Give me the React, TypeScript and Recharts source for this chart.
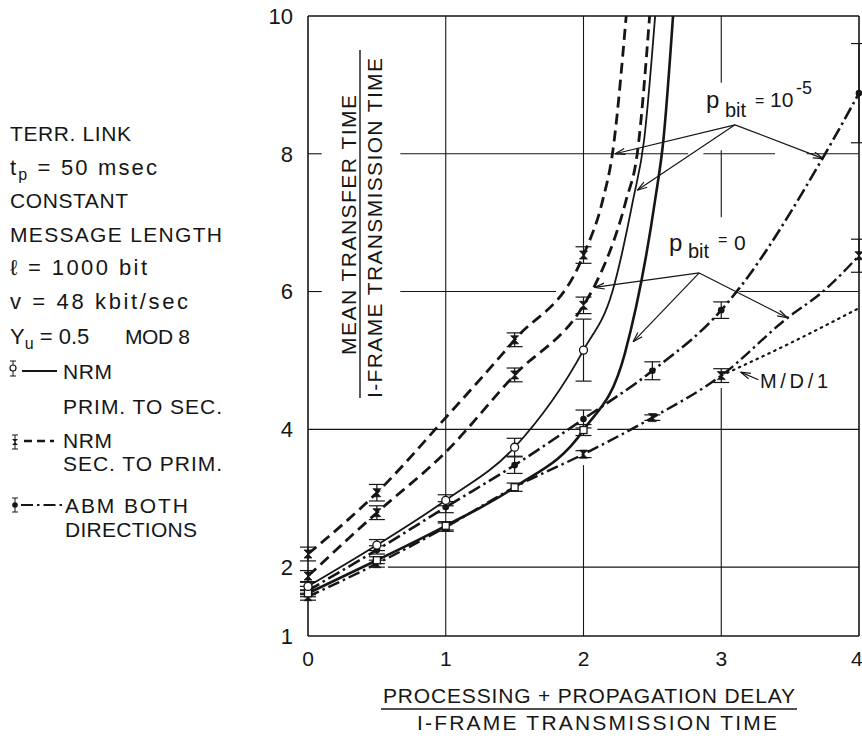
import React from 'react'
import {
  ComposedChart,
  Line,
  Scatter,
  XAxis,
  YAxis,
  ReferenceLine,
  ErrorBar,
} from 'recharts'

// ---------------------------------------------------------------------------
// Values (x = delay / I-frame time, y = transfer / I-frame time)
// ---------------------------------------------------------------------------

const xTicks = [0, 1, 2, 3, 4]
const yTicks = [1, 2, 4, 6, 8, 10]

// NRM primary -> secondary, p_bit = 1e-5 (thin solid, open circles)
const nrmPsErrCurve = [
  { x: 0, y: 1.72 }, { x: 0.5, y: 2.32 }, { x: 1, y: 2.97 }, { x: 1.5, y: 3.74 },
  { x: 2, y: 5.15 }, { x: 2.21, y: 6.0 }, { x: 2.36, y: 7.33 }, { x: 2.44, y: 8.2 },
  { x: 2.52, y: 10 },
]
const nrmPsErrPts = [
  { x: 0, y: 1.72, err: 0.06 }, { x: 0.5, y: 2.32, err: 0.08 }, { x: 1, y: 2.97, err: 0.08 },
  { x: 1.5, y: 3.74, err: 0.13 }, { x: 2, y: 5.15, err: 0.45 },
]

// NRM primary -> secondary, p_bit = 0 (thick solid, open squares)
const nrmPsCurve = [
  { x: 0, y: 1.62 }, { x: 0.5, y: 2.1 }, { x: 1, y: 2.6 }, { x: 1.5, y: 3.16 },
  { x: 2, y: 3.99 }, { x: 2.3, y: 5.1 }, { x: 2.52, y: 7.33 }, { x: 2.58, y: 8.2 },
  { x: 2.65, y: 10 },
]
const nrmPsPts = [
  { x: 0, y: 1.62, err: 0.05 }, { x: 0.5, y: 2.1, err: 0.05 }, { x: 1, y: 2.6, err: 0.06 },
  { x: 1.5, y: 3.16, err: 0.06 }, { x: 2, y: 3.99, err: 0.08 },
]

// NRM secondary -> primary, p_bit = 1e-5 (dashed, upper)
const nrmSpErrCurve = [
  { x: 0, y: 2.19 }, { x: 0.5, y: 3.08 }, { x: 1, y: 4.17 }, { x: 1.5, y: 5.3 },
  { x: 2, y: 6.53 }, { x: 2.14, y: 7.33 }, { x: 2.21, y: 8.0 }, { x: 2.31, y: 10 },
]
const nrmSpErrPts = [
  { x: 0, y: 2.19, err: 0.1 }, { x: 0.5, y: 3.08, err: 0.12 },
  { x: 1.5, y: 5.3, err: 0.1 }, { x: 2, y: 6.53, err: 0.12 },
]

// NRM secondary -> primary, p_bit = 0 (dashed, lower)
const nrmSpCurve = [
  { x: 0, y: 1.87 }, { x: 0.5, y: 2.79 }, { x: 1, y: 3.67 }, { x: 1.5, y: 4.79 },
  { x: 2, y: 5.8 }, { x: 2.08, y: 6.08 }, { x: 2.31, y: 7.33 }, { x: 2.39, y: 8.0 },
  { x: 2.48, y: 10 },
]
const nrmSpPts = [
  { x: 0, y: 1.87, err: 0.08 }, { x: 0.5, y: 2.79, err: 0.1 },
  { x: 1.5, y: 4.79, err: 0.1 }, { x: 2, y: 5.8, err: 0.12 },
]

// ABM both directions, p_bit = 1e-5 (dash-dot, upper)
const abmErrCurve = [
  { x: 0, y: 1.66 }, { x: 0.5, y: 2.25 }, { x: 1, y: 2.87 }, { x: 1.5, y: 3.48 },
  { x: 2, y: 4.15 }, { x: 2.5, y: 4.85 }, { x: 3, y: 5.73 }, { x: 3.12, y: 6.02 },
  { x: 3.74, y: 7.95 }, { x: 4, y: 8.88 },
]
const abmErrPts = [
  { x: 0, y: 1.66, err: 0.06 }, { x: 0.5, y: 2.25, err: 0.06 }, { x: 1, y: 2.87, err: 0.08 },
  { x: 1.5, y: 3.48, err: 0.12 }, { x: 2, y: 4.15, err: 0.13 }, { x: 2.5, y: 4.85, err: 0.13 },
  { x: 3, y: 5.73, err: 0.12 }, { x: 4, y: 8.88, err: 0.72 },
]

// ABM both directions, p_bit = 0 (dash-dot, lower)
const abmCurve = [
  { x: 0, y: 1.57 }, { x: 0.5, y: 2.05 }, { x: 1, y: 2.58 }, { x: 1.5, y: 3.16 },
  { x: 2, y: 3.64 }, { x: 2.5, y: 4.17 }, { x: 3, y: 4.78 }, { x: 3.47, y: 5.6 },
  { x: 3.75, y: 6.02 }, { x: 4, y: 6.52 },
]
const abmPts = [
  { x: 0, y: 1.57, err: 0.05 }, { x: 0.5, y: 2.05, err: 0.05 }, { x: 1, y: 2.58, err: 0.06 },
  { x: 2, y: 3.64, err: 0.05 }, { x: 2.5, y: 4.17, err: 0.04 }, { x: 3, y: 4.78, err: 0.1 },
  { x: 4, y: 6.52, err: 0.24 },
]

// M/D/1 theory (dotted)
const mdOneCurve = [{ x: 3, y: 4.78 }, { x: 3.52, y: 5.27 }, { x: 4, y: 5.76 }]

// ---------------------------------------------------------------------------
// Grid with the gaps the draftsman left around labels and curves
// ---------------------------------------------------------------------------

const hGrid = [
  { y: 8, spans: [[0, 0.1], [0.67, 2.76], [2.87, 3.39], [3.62, 4]] },
  { y: 6, spans: [[0, 0.1], [0.67, 1.8], [3.13, 4]] },
  { y: 4, spans: [[0, 1.99], [2.1, 4]] },
  { y: 2, spans: [[0.58, 4]] },
]
const vGrid = [
  { x: 1, spans: [[1, 10]] },
  { x: 2, spans: [[1, 3.48], [6.65, 10]] },
  { x: 3, spans: [[1, 4.6], [7.08, 8.05], [9.03, 10]] },
]

// label leaders: [from, to], arrowhead at "to"
const leaders = [
  [{ x: 3.1, y: 8.42 }, { x: 2.23, y: 8.0 }],
  [{ x: 3.1, y: 8.42 }, { x: 2.39, y: 7.47 }],
  [{ x: 3.1, y: 8.42 }, { x: 3.74, y: 7.93 }],
  [{ x: 2.84, y: 6.27 }, { x: 2.08, y: 6.06 }],
  [{ x: 2.84, y: 6.27 }, { x: 2.36, y: 5.27 }],
  [{ x: 2.84, y: 6.27 }, { x: 3.48, y: 5.62 }],
  [{ x: 3.27, y: 4.72 }, { x: 3.14, y: 4.83 }],
]

const INK = '#161616'
const FONT = '"Liberation Sans", Arial, Helvetica, sans-serif'

// ---------------------------------------------------------------------------
// Marker shapes
// ---------------------------------------------------------------------------

function OpenCircle(props: any) {
  const { cx, cy } = props
  return <circle cx={cx} cy={cy} r={4} fill="#fff" stroke={INK} strokeWidth={1.3} />
}

function OpenSquare(props: any) {
  const { cx, cy } = props
  return <rect x={cx - 3.5} y={cy - 3.5} width={7} height={7} fill="#fff" stroke={INK} strokeWidth={1.3} />
}

function Bowtie(props: any) {
  const { cx, cy } = props
  return (
    <path
      d={`M${cx - 4},${cy - 4} L${cx + 4},${cy - 4} L${cx - 4},${cy + 4} L${cx + 4},${cy + 4} Z`}
      fill={INK}
      stroke={INK}
      strokeWidth={0.8}
    />
  )
}

function Dot(props: any) {
  const { cx, cy } = props
  return <circle cx={cx} cy={cy} r={3.3} fill={INK} />
}

function Leader(props: any) {
  const { x1, y1, x2, y2 } = props
  const a = Math.atan2(y2 - y1, x2 - x1)
  const bx = x2 - 10 * Math.cos(a)
  const by = y2 - 10 * Math.sin(a)
  const px = -Math.sin(a) * 3
  const py = Math.cos(a) * 3
  return (
    <g>
      <line x1={x1} y1={y1} x2={x2} y2={y2} stroke={INK} strokeWidth={1.2} />
      <path
        d={`M${x2},${y2} L${bx + px},${by + py} M${x2},${y2} L${bx - px},${by - py}`}
        stroke={INK}
        strokeWidth={1.2}
        fill="none"
      />
    </g>
  )
}

const errBar = (
  <ErrorBar dataKey="err" direction="y" width={8} stroke={INK} strokeWidth={1.2} />
)

// ---------------------------------------------------------------------------

export default function App() {
  const txt = { fill: INK, fontSize: 21 } as const
  const low = { fill: INK, fontSize: 22 } as const

  return (
    <div
      style={{
        position: 'absolute',
        left: 0,
        top: 0,
        width: 862,
        height: 739,
        background: '#fff',
        fontFamily: FONT,
      }}
    >
      <ComposedChart width={862} height={739} margin={{ top: 16, right: 3, bottom: 73, left: 248 }}>
        <XAxis
          type="number"
          dataKey="x"
          domain={[0, 4]}
          ticks={xTicks}
          height={30}
          tickLine={false}
          tickMargin={9}
          axisLine={{ stroke: INK, strokeWidth: 1.6 }}
          tick={{ fill: INK, fontSize: 21 }}
        />
        <YAxis
          type="number"
          dataKey="y"
          domain={[1, 10]}
          ticks={yTicks}
          width={60}
          tickLine={false}
          tickMargin={9}
          axisLine={{ stroke: INK, strokeWidth: 1.6 }}
          tick={{ fill: INK, fontSize: 22 }}
        />

        {/* frame */}
        <ReferenceLine y={10} stroke={INK} strokeWidth={1.6} />
        <ReferenceLine x={4} stroke={INK} strokeWidth={1.6} />

        {/* broken grid */}
        {hGrid.map(g =>
          g.spans.map((s, i) => (
            <ReferenceLine
              key={`h${g.y}-${i}`}
              segment={[{ x: s[0], y: g.y }, { x: s[1], y: g.y }]}
              stroke={INK}
              strokeWidth={1.1}
            />
          ))
        )}
        {vGrid.map(g =>
          g.spans.map((s, i) => (
            <ReferenceLine
              key={`v${g.x}-${i}`}
              segment={[{ x: g.x, y: s[0] }, { x: g.x, y: s[1] }]}
              stroke={INK}
              strokeWidth={1.1}
            />
          ))
        )}

        {/* curves */}
        <Line data={mdOneCurve} dataKey="y" type="monotone" stroke={INK} strokeWidth={2.2} strokeDasharray="1.5 5" strokeLinecap="round" dot={false} activeDot={false} isAnimationActive={false} />
        <Line data={abmCurve} dataKey="y" type="monotone" stroke={INK} strokeWidth={2.4} strokeDasharray="12 4 2.5 4" dot={false} activeDot={false} isAnimationActive={false} />
        <Line data={abmErrCurve} dataKey="y" type="monotone" stroke={INK} strokeWidth={2.6} strokeDasharray="13 4 2.5 4" dot={false} activeDot={false} isAnimationActive={false} />
        <Line data={nrmPsCurve} dataKey="y" type="monotone" stroke={INK} strokeWidth={2.6} dot={false} activeDot={false} isAnimationActive={false} />
        <Line data={nrmPsErrCurve} dataKey="y" type="monotone" stroke={INK} strokeWidth={1.8} dot={false} activeDot={false} isAnimationActive={false} />
        <Line data={nrmSpCurve} dataKey="y" type="monotone" stroke={INK} strokeWidth={2.8} strokeDasharray="11 6" dot={false} activeDot={false} isAnimationActive={false} />
        <Line data={nrmSpErrCurve} dataKey="y" type="monotone" stroke={INK} strokeWidth={2.8} strokeDasharray="11 6" dot={false} activeDot={false} isAnimationActive={false} />

        {/* simulation points with confidence intervals */}
        <Scatter data={abmPts} dataKey="y" shape={(p: any) => <Bowtie {...p} />} isAnimationActive={false}>{errBar}</Scatter>
        <Scatter data={abmErrPts} dataKey="y" shape={(p: any) => <Dot {...p} />} isAnimationActive={false}>{errBar}</Scatter>
        <Scatter data={nrmSpPts} dataKey="y" shape={(p: any) => <Bowtie {...p} />} isAnimationActive={false}>{errBar}</Scatter>
        <Scatter data={nrmSpErrPts} dataKey="y" shape={(p: any) => <Bowtie {...p} />} isAnimationActive={false}>{errBar}</Scatter>
        <Scatter data={nrmPsPts} dataKey="y" shape={(p: any) => <OpenSquare {...p} />} isAnimationActive={false}>{errBar}</Scatter>
        <Scatter data={nrmPsErrPts} dataKey="y" shape={(p: any) => <OpenCircle {...p} />} isAnimationActive={false}>{errBar}</Scatter>

        {/* label leaders */}
        {leaders.map((seg, i) => (
          <ReferenceLine key={`l${i}`} segment={seg} shape={(p: any) => <Leader {...p} />} />
        ))}
      </ComposedChart>

      {/* texts around and inside the plot */}
      <svg
        width={862}
        height={739}
        style={{ position: 'absolute', left: 0, top: 0, pointerEvents: 'none' }}
      >
        {/* parameter block */}
        <text x={10} y={141} {...txt} textLength={121} lengthAdjust="spacing">TERR. LINK</text>
        <text x={10} y={175} {...low} textLength={147} lengthAdjust="spacing">
          t<tspan fontSize={16} dy={5}>p</tspan><tspan dy={-5}> = 50 msec</tspan>
        </text>
        <text x={10} y={208} {...txt} textLength={118} lengthAdjust="spacing">CONSTANT</text>
        <text x={10} y={242} {...txt} textLength={212} lengthAdjust="spacing">MESSAGE LENGTH</text>
        <text x={10} y={275} {...low} textLength={137} lengthAdjust="spacing">ℓ = 1000 bit</text>
        <text x={10} y={309} {...low} textLength={178} lengthAdjust="spacing">v = 48 kbit/sec</text>
        <text x={10} y={344} {...low}>
          Y<tspan fontSize={16} dy={5}>u</tspan><tspan dy={-5}> = 0.5</tspan>
        </text>
        <text x={125} y={344} {...txt} textLength={65} lengthAdjust="spacing">MOD 8</text>

        {/* line key */}
        <line x1={13} y1={361} x2={13} y2={376} stroke={INK} strokeWidth={1} />
        <line x1={10} y1={361} x2={16} y2={361} stroke={INK} strokeWidth={1} />
        <line x1={10} y1={376} x2={16} y2={376} stroke={INK} strokeWidth={1} />
        <circle cx={13} cy={368} r={3} fill="#fff" stroke={INK} strokeWidth={1.2} />
        <line x1={22} y1={371} x2={57} y2={371} stroke={INK} strokeWidth={2.2} />
        <text x={63} y={379} {...txt} textLength={49} lengthAdjust="spacing">NRM</text>
        <text x={63} y={414} {...txt} textLength={159} lengthAdjust="spacing">PRIM. TO SEC.</text>

        <line x1={15} y1={435} x2={15} y2={449} stroke={INK} strokeWidth={1} />
        <line x1={12} y1={435} x2={18} y2={435} stroke={INK} strokeWidth={1} />
        <line x1={12} y1={449} x2={18} y2={449} stroke={INK} strokeWidth={1} />
        <path d="M12,439 L18,439 L12,445 L18,445 Z" fill={INK} />
        <line x1={24} y1={441} x2={54} y2={441} stroke={INK} strokeWidth={2.5} strokeDasharray="8 5" />
        <text x={63} y={448} {...txt} textLength={49} lengthAdjust="spacing">NRM</text>
        <text x={63} y={471} {...txt} textLength={159} lengthAdjust="spacing">SEC. TO PRIM.</text>

        <line x1={15} y1={498} x2={15} y2={512} stroke={INK} strokeWidth={1} />
        <line x1={12} y1={498} x2={18} y2={498} stroke={INK} strokeWidth={1} />
        <line x1={12} y1={512} x2={18} y2={512} stroke={INK} strokeWidth={1} />
        <circle cx={15} cy={505} r={2.8} fill={INK} />
        <line x1={21} y1={505} x2={63} y2={505} stroke={INK} strokeWidth={2.2} strokeDasharray="12 4 2.5 4" />
        <text x={65} y={513} {...txt} textLength={123} lengthAdjust="spacing">ABM BOTH</text>
        <text x={65} y={537} {...txt} textLength={132} lengthAdjust="spacing">DIRECTIONS</text>

        {/* y axis title */}
        <text transform="translate(356,225) rotate(-90)" textAnchor="middle" {...txt} textLength={260} lengthAdjust="spacing">
          MEAN TRANSFER TIME
        </text>
        <line x1={360} y1={50} x2={360} y2={398} stroke={INK} strokeWidth={1.4} />
        <text transform="translate(382,228) rotate(-90)" textAnchor="middle" {...txt} textLength={340} lengthAdjust="spacing">
          I-FRAME TRANSMISSION TIME
        </text>

        {/* x axis title */}
        <text x={589} y={703} textAnchor="middle" {...txt} textLength={412} lengthAdjust="spacing">
          PROCESSING + PROPAGATION DELAY
        </text>
        <line x1={381} y1={709} x2={797} y2={709} stroke={INK} strokeWidth={1.4} />
        <text x={597} y={730} textAnchor="middle" {...txt} textLength={360} lengthAdjust="spacing">
          I-FRAME TRANSMISSION TIME
        </text>

        {/* curve labels */}
        <text x={706} y={108} fill={INK} fontSize={24}>p</text>
        <text x={725} y={117} fill={INK} fontSize={20}>bit</text>
        <text x={755} y={106} fill={INK} fontSize={16}>=</text>
        <text x={770} y={107} fill={INK} fontSize={21}>10</text>
        <text x={796} y={94} fill={INK} fontSize={18}>-5</text>

        <text x={669} y={251} fill={INK} fontSize={24}>p</text>
        <text x={688} y={258} fill={INK} fontSize={20}>bit</text>
        <text x={718} y={245} fill={INK} fontSize={16}>=</text>
        <text x={734} y={250} fill={INK} fontSize={21}>0</text>

        <text x={760} y={388} fill={INK} fontSize={20} textLength={68} lengthAdjust="spacing">M/D/1</text>
      </svg>
    </div>
  )
}
